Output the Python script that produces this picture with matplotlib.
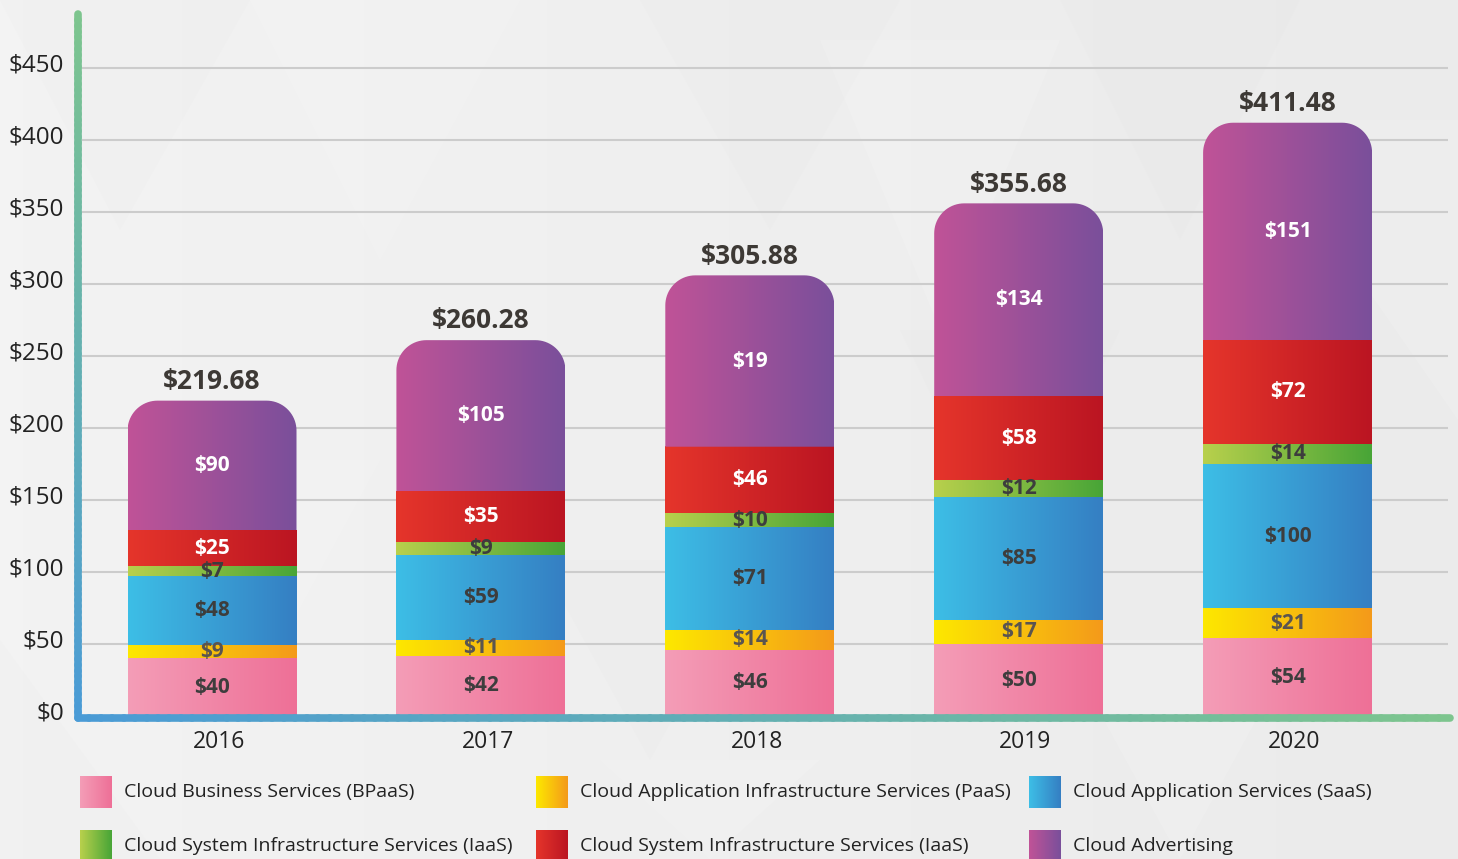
import numpy as np
import matplotlib
matplotlib.use("Agg")
import matplotlib.pyplot as plt
from matplotlib.colors import LinearSegmentedColormap
from matplotlib.collections import LineCollection
from matplotlib.patches import PathPatch, Polygon
from matplotlib.path import Path
from matplotlib.transforms import ScaledTranslation

plt.rcParams['font.family'] = ['Open Sans', 'DejaVu Sans']

# data
years = ['2016', '2017', '2018', '2019', '2020']
bpaas = [40, 42, 46, 50, 54]
paas = [9, 11, 14, 17, 21]
saas = [48, 59, 71, 85, 100]
iaas_green = [7, 9, 10, 12, 14]
iaas_red = [25, 35, 46, 58, 72]
advertising = [90, 105, 119, 134, 151]
advertising_shown = ['$90', '$105', '$19', '$134', '$151']   # as printed on the original
totals = [219.68, 260.28, 305.88, 355.68, 411.48]
yticks = [0, 50, 100, 150, 200, 250, 300, 350, 400, 450]

series_names = ['Cloud Business Services (BPaaS)',
                'Cloud Application Infrastructure Services (PaaS)',
                'Cloud Application Services (SaaS)',
                'Cloud System Infrastructure Services (IaaS)',
                'Cloud System Infrastructure Services (IaaS)',
                'Cloud Advertising']
series_vals = [bpaas, paas, saas, iaas_green, iaas_red, advertising]
grad_colors = [('#f49db7', '#ee7097'),
               ('#fde800', '#f49a1a'),
               ('#3dbee6', '#357fc3'),
               ('#b8d04c', '#48a537'),
               ('#e5352b', '#bb1522'),
               ('#c05397', '#7a4f9b')]
label_colors = ['#3d3d3d', '#5a5550', '#3d3d3d', '#3d3d3d', 'white', 'white']

W, H = 1458, 859
fig = plt.figure(figsize=(W / 100, H / 100), dpi=100)

# background with faint triangle pattern
bg = fig.add_axes([0, 0, 1, 1], zorder=0)
bg.set_xlim(0, W)
bg.set_ylim(H, 0)
bg.axis('off')
bg.imshow(np.linspace(0, 1, 64).reshape(1, -1), extent=[0, W, H, 0], aspect='auto',
          cmap=LinearSegmentedColormap.from_list('bg', ['#f3f3f3', '#ebebeb']), zorder=0)
tris = [
    [(0, 0), (250, 0), (120, 230)], [(250, 0), (520, 0), (380, 260)],
    [(640, 0), (900, 0), (770, 230)], [(820, 40), (1060, 40), (940, 330)],
    [(1060, 0), (1300, 0), (1180, 240)], [(1250, 120), (1458, 120), (1458, 420)],
    [(900, 330), (1120, 330), (1010, 560)], [(120, 460), (380, 460), (250, 700)],
    [(540, 560), (760, 560), (650, 760)], [(1060, 640), (1300, 640), (1180, 859)],
    [(0, 640), (160, 859), (0, 859)], [(600, 760), (820, 760), (710, 859)],
]
for i, t in enumerate(tris):
    bg.add_patch(Polygon(t, closed=True, facecolor='white' if i % 2 else '#dcdcdc',
                         alpha=0.12 if i % 2 else 0.08, edgecolor='none', zorder=1))

# main axes
px_per_unit = 268.9
xc0 = 212
x_left, x_right = 82, 1448
ylo, yhi = -1, 488
ppd = 1.44
bottom_px = 716 - ylo * ppd
top_px = 716 - yhi * ppd
ax = fig.add_axes([x_left / W, (H - bottom_px) / H, (x_right - x_left) / W,
                   (bottom_px - top_px) / H], zorder=1)
ax.patch.set_alpha(0)
for s in ax.spines.values():
    s.set_visible(False)

x = np.arange(len(years))
width = 169 / px_per_unit
rx = 30 / px_per_unit
ry = 30 / ppd

for i in range(len(years)):
    bottom = 0
    for k, vals in enumerate(series_vals):
        v = vals[i]
        x0, x1 = x[i] - width / 2, x[i] + width / 2
        cmap = LinearSegmentedColormap.from_list('c%d' % k, grad_colors[k])
        im = ax.imshow(np.linspace(0, 1, 128).reshape(1, -1), extent=[x0, x1, bottom, bottom + v],
                       aspect='auto', cmap=cmap, interpolation='bilinear', zorder=2)
        if k == len(series_vals) - 1:
            top = bottom + v
            pts = [(x0, bottom)]
            for a in np.linspace(np.pi, np.pi / 2, 20):
                pts.append((x0 + rx + rx * np.cos(a), top - ry + ry * np.sin(a)))
            for a in np.linspace(np.pi / 2, 0, 20):
                pts.append((x1 - rx + rx * np.cos(a), top - ry + ry * np.sin(a)))
            pts.append((x1, bottom))
            pts.append((x0, bottom))
            clip = PathPatch(Path(pts), transform=ax.transData, facecolor='none', edgecolor='none')
            ax.add_patch(clip)
            im.set_clip_path(clip)
            txt = advertising_shown[i]
        else:
            txt = '$%d' % v
        ax.text(x[i], bottom + v / 2, txt, ha='center', va='center', fontsize=15,
                fontweight='bold', color=label_colors[k], zorder=4)
        bottom += v
    ax.text(x[i], bottom + 4, '$%.2f' % totals[i], ha='center', va='bottom', fontsize=19,
            fontweight='bold', color='#3d3935', zorder=4)
    ax.text(x[i] + 0.025, -10, years[i], ha='center', va='top', fontsize=16.5,
            color='#222222', zorder=4)

for yv in yticks[1:]:
    ax.axhline(yv, color='#cccccc', lw=1.5, zorder=1)

ax.set_xlim((x_left - xc0) / px_per_unit, (x_right - xc0) / px_per_unit)
ax.set_ylim(ylo, yhi)
ax.set_xticks([])
ax.set_yticks(yticks)
ax.set_yticklabels(['$%d' % t for t in yticks], fontsize=17.5, color='#222222')
ax.tick_params(axis='y', length=0, pad=13)
for lab in ax.get_yticklabels():
    lab.set_transform(lab.get_transform() + ScaledTranslation(0, 4 / 72, fig.dpi_scale_trans))

# overlay: gradient axis lines and legend
ov = fig.add_axes([0, 0, 1, 1], zorder=3)
ov.set_xlim(0, W)
ov.set_ylim(H, 0)
ov.axis('off')
ov.patch.set_alpha(0)

green = np.array(matplotlib.colors.to_rgb('#7dc58e'))
blue = np.array(matplotlib.colors.to_rgb('#4a9bd6'))
n = 120
ys = np.linspace(14, 717.5, n + 1)
segs = [[(78, ys[j]), (78, ys[j + 1])] for j in range(n)]
cols = [green + (blue - green) * j / (n - 1) for j in range(n)]
ov.add_collection(LineCollection(segs, colors=cols, linewidths=5.5, capstyle='round'))
xs = np.linspace(78, 1450, n + 1)
segs = [[(xs[j], 717.5), (xs[j + 1], 717.5)] for j in range(n)]
cols = [blue + (green - blue) * j / (n - 1) for j in range(n)]
ov.add_collection(LineCollection(segs, colors=cols, linewidths=5.5, capstyle='round'))

leg_x = [80, 536, 1029]
leg_y = [776, 830]
for k, name in enumerate(series_names):
    row, col = k // 3, k % 3
    sx, sy = leg_x[col], leg_y[row]
    cmap = LinearSegmentedColormap.from_list('l%d' % k, grad_colors[k])
    ov.imshow(np.linspace(0, 1, 64).reshape(1, -1), extent=[sx, sx + 32, sy + 32, sy],
              aspect='auto', cmap=cmap, interpolation='bilinear', zorder=2)
    ov.text(sx + 44, sy + 16, name, ha='left', va='center', fontsize=14, color='#222222')
ov.set_xlim(0, W)
ov.set_ylim(H, 0)

fig.savefig('out.png', dpi=100)
